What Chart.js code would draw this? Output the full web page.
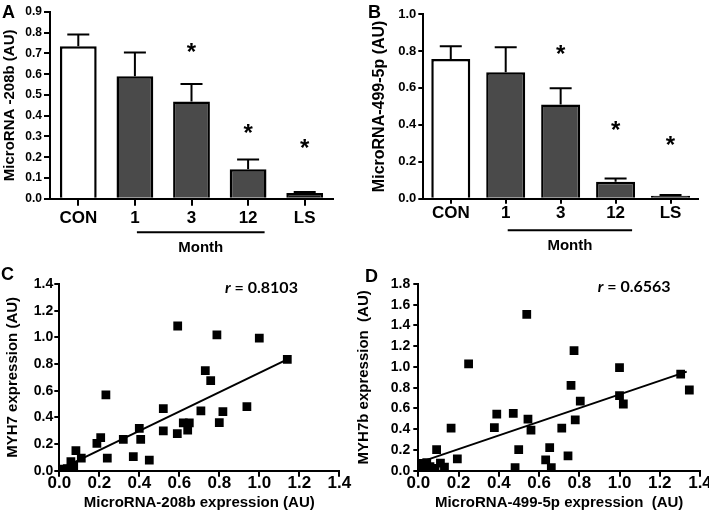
<!DOCTYPE html>
<html>
<head>
<meta charset="utf-8">
<script src="https://cdn.jsdelivr.net/npm/chart.js@4.4.0/dist/chart.umd.min.js"></script>
<style>
body { margin:0; background:#fff; width:709px; height:514px; position:relative; overflow:hidden; }
canvas { position:absolute; }
</style>
</head>
<body>
<canvas id="chartA" width="355" height="262" style="left:0;top:0"></canvas>
<canvas id="chartB" width="354" height="262" style="left:355px;top:0"></canvas>
<canvas id="chartC" width="355" height="264" style="left:0;top:250px"></canvas>
<canvas id="chartD" width="370" height="264" style="left:355px;top:250px"></canvas>
<script>
// bar panels (A, B)
var groups = ['CON', '1', '3', '12', 'LS'];
var mir208bMean = [0.735, 0.59, 0.468, 0.142, 0.028];
var mir208bErr  = [0.057, 0.115, 0.085, 0.047, 0.004];
var mir208bStar = [null, null, 0.73, 0.34, 0.27];
var mir499Mean = [0.757, 0.684, 0.51, 0.092, 0.016];
var mir499Err  = [0.068, 0.136, 0.088, 0.018, 0.004];
var mir499Star = [null, null, 0.81, 0.40, 0.32];
var barColors = ['#ffffff', '#4a4a4a', '#4a4a4a', '#4a4a4a', '#141414'];

// scatter panels (C, D)
var mir208bX = [0.01, 0.02, 0.03, 0.04, 0.05, 0.06, 0.072, 0.058, 0.083, 0.11, 0.188, 0.207, 0.233, 0.24, 0.32, 0.37, 0.40, 0.407, 0.45, 0.52, 0.52, 0.59, 0.592, 0.62, 0.642, 0.65, 0.708, 0.73, 0.757, 0.788, 0.80, 0.818, 0.938, 1.0, 1.14];
var myh7Y    = [0.005, 0.012, 0.0, 0.015, 0.004, 0.022, 0.035, 0.068, 0.15, 0.095, 0.205, 0.248, 0.568, 0.095, 0.235, 0.105, 0.318, 0.235, 0.08, 0.465, 0.298, 0.278, 1.085, 0.358, 0.305, 0.358, 0.448, 0.75, 0.675, 1.018, 0.36, 0.443, 0.48, 0.995, 0.835];
var fitC = [[0.012, 0.018], [1.14, 0.835]];

var mir499X = [0.008, 0.015, 0.02, 0.03, 0.042, 0.05, 0.058, 0.083, 0.091, 0.11, 0.13, 0.163, 0.194, 0.25, 0.378, 0.39, 0.472, 0.481, 0.499, 0.545, 0.539, 0.56, 0.633, 0.653, 0.661, 0.713, 0.744, 0.759, 0.774, 0.78, 0.805, 1.0, 1.0, 1.019, 1.304, 1.347];
var myh7bY   = [0.01, 0.035, 0.07, 0.02, 0.077, 0.01, 0.04, 0.022, 0.204, 0.074, 0.035, 0.41, 0.113, 1.029, 0.415, 0.545, 0.553, 0.03, 0.204, 0.498, 1.508, 0.392, 0.105, 0.222, 0.03, 0.41, 0.142, 0.823, 1.157, 0.489, 0.67, 0.993, 0.723, 0.643, 0.93, 0.778];
var fitD = [[0.017, 0.087], [1.334, 0.955]];

var FONT = "'Liberation Sans', Arial, sans-serif";
Chart.defaults.font.family = FONT;
Chart.defaults.color = '#000';

function pairs(xs, ys) {
  var out = [];
  for (var i = 0; i < xs.length; i++) out.push({x: xs[i], y: ys[i]});
  return out;
}

function barExtras(mean, err, star, letter, letterX, monthY) {
  return {
    id: 'barExtras',
    afterDatasetsDraw: function(chart) {
      var ctx = chart.ctx, xs = chart.scales.x, ys = chart.scales.y;
      ctx.save();
      ctx.strokeStyle = '#000';
      ctx.fillStyle = '#000';
      ctx.lineWidth = 2;
      for (var i = 0; i < mean.length; i++) {
        var x = xs.getPixelForValue(i);
        var y0 = ys.getPixelForValue(mean[i]);
        var y1 = ys.getPixelForValue(mean[i] + err[i]);
        ctx.beginPath();
        ctx.moveTo(x, y0); ctx.lineTo(x, y1);
        ctx.moveTo(x - 11, y1); ctx.lineTo(x + 11, y1);
        ctx.stroke();
        if (star[i] != null) {
          ctx.font = 'bold 24px ' + FONT;
          ctx.textAlign = 'center';
          ctx.textBaseline = 'alphabetic';
          ctx.fillText('*', x, ys.getPixelForValue(star[i]) + 13);
        }
      }
      // "Month" bracket under 1..12
      var lx0 = xs.getPixelForValue(1) + 2;
      var lx1 = xs.getPixelForValue(3) + 16.5;
      var ly = ys.bottom + monthY;
      ctx.beginPath();
      ctx.moveTo(lx0, ly); ctx.lineTo(lx1, ly);
      ctx.stroke();
      ctx.font = 'bold 15px ' + FONT;
      ctx.textAlign = 'center';
      ctx.textBaseline = 'middle';
      ctx.fillText('Month', (lx0 + lx1) / 2, ly + 16);
      ctx.font = 'bold 18px ' + FONT;
      ctx.textAlign = 'left';
      ctx.textBaseline = 'alphabetic';
      ctx.fillText(letter, letterX, 18);
      ctx.restore();
    }
  };
}

function barChart(id, mean, err, star, cfg) {
  return new Chart(document.getElementById(id), {
    type: 'bar',
    data: {
      labels: groups,
      datasets: [{
        data: mean,
        backgroundColor: barColors,
        borderColor: '#000',
        borderWidth: 2.5,
        barPercentage: cfg.barPct,
        categoryPercentage: 1
      }]
    },
    options: {
      responsive: false,
      animation: false,
      layout: {padding: {top: cfg.top, right: cfg.right, left: 0, bottom: 0}},
      plugins: {legend: {display: false}, tooltip: {enabled: false}},
      scales: {
        x: {
          grid: {drawOnChartArea: false, offset: false, color: '#000', lineWidth: 2, tickLength: cfg.xTick},
          border: {color: '#000', width: 2},
          ticks: {font: {size: 17, weight: 'bold'}, padding: cfg.xPad, maxRotation: 0},
          afterFit: function(s) { s.height = 262 - 198.7; }
        },
        y: {
          min: 0, max: cfg.max,
          grid: {drawOnChartArea: false, color: '#000', lineWidth: 2, tickLength: cfg.yTick},
          border: {color: '#000', width: 2},
          ticks: {stepSize: cfg.step, font: {size: cfg.yFont, weight: 'bold'}, padding: 2,
                  callback: function(v) { return v.toFixed(1); }},
          title: {display: true, text: cfg.title, font: {size: cfg.titleSize, weight: 'bold'}, padding: {top: cfg.titlePad, bottom: 0}},
          afterFit: function(s) { s.width = cfg.yWidth; }
        }
      }
    },
    plugins: [barExtras(mean, err, star, cfg.letter, cfg.letterX, cfg.monthY)]
  });
}

barChart('chartA', mir208bMean, mir208bErr, mir208bStar, {
  barPct: 0.65, top: 12, right: 22, max: 0.9, step: 0.1, yFont: 12, yTick: 6, xTick: 7, xPad: 2.4,
  title: 'MicroRNA -208b (AU)', titleSize: 15, titlePad: 1, yWidth: 50, letter: 'A', letterX: 2, monthY: 33.5
});
barChart('chartB', mir499Mean, mir499Err, mir499Star, {
  barPct: 0.71, top: 14, right: 11, max: 1.0, step: 0.2, yFont: 13, yTick: 5, xTick: 5, xPad: -0.6,
  title: 'MicroRNA-499-5p (AU)', titleSize: 16, titlePad: 15, yWidth: 68.3, letter: 'B', letterX: 13, monthY: 31.5
});

function scatterExtras(letter, letterX, letterY, rText, rX, rY) {
  return {
    id: 'scatterExtras',
    afterDraw: function(chart) {
      var ctx = chart.ctx;
      ctx.save();
      ctx.fillStyle = '#000';
      ctx.textBaseline = 'alphabetic';
      ctx.textAlign = 'left';
      ctx.font = 'bold 18px ' + FONT;
      ctx.fillText(letter, letterX, letterY);
      ctx.textBaseline = 'middle';
      ctx.font = 'italic bold 16px Lato, ' + FONT;
      ctx.fillText('r', rX, rY);
      var w = ctx.measureText('r').width;
      ctx.font = 'bold 16px Lato, ' + FONT;
      ctx.fillText(' = ' + rText, rX + w, rY);
      ctx.restore();
    }
  };
}

function scatterChart(id, xs, ys, fit, cfg) {
  return new Chart(document.getElementById(id), {
    type: 'scatter',
    data: {
      datasets: [{
        data: pairs(xs, ys),
        pointStyle: 'rect',
        pointRadius: 6.2,
        backgroundColor: '#000',
        borderWidth: 0
      }, {
        type: 'line',
        data: fit.map(function(p) { return {x: p[0], y: p[1]}; }),
        borderColor: '#000',
        borderWidth: 2,
        pointRadius: 0,
        fill: false
      }]
    },
    options: {
      responsive: false,
      animation: false,
      layout: {padding: {top: 34, right: cfg.right, left: 0, bottom: 0}},
      plugins: {legend: {display: false}, tooltip: {enabled: false}},
      scales: {
        x: {
          type: 'linear', min: 0, max: 1.4,
          grid: {drawOnChartArea: false, color: '#000', lineWidth: 2, tickLength: 6},
          border: {color: '#000', width: 2},
          ticks: {stepSize: 0.2, font: {size: 17, weight: 'bold'}, padding: -3.6, maxRotation: 0,
                  callback: function(v) { return v.toFixed(1); }},
          title: {display: true, text: cfg.xTitle, font: {size: 15, weight: 'bold'}, padding: {top: 0, bottom: 2}},
          afterFit: function(s) { s.height = 43.3; }
        },
        y: {
          min: 0, max: cfg.max,
          grid: {drawOnChartArea: false, color: '#000', lineWidth: 2, tickLength: 5},
          border: {color: '#000', width: 2},
          ticks: {stepSize: 0.2, font: {size: 14, weight: 'bold'}, padding: cfg.yPad,
                  callback: function(v) { return v.toFixed(1); }},
          title: {display: true, text: cfg.yTitle, font: {size: 15, weight: 'bold'}, padding: {top: cfg.titlePad, bottom: 0}},
          afterFit: function(s) { s.width = cfg.yWidth; }
        }
      }
    },
    plugins: [scatterExtras(cfg.letter, cfg.letterX, cfg.letterY, cfg.r, cfg.rX, cfg.rY)]
  });
}

scatterChart('chartC', mir208bX, myh7Y, fitC, {
  right: 15.7, max: 1.4, yPad: 1, yWidth: 59.3, titlePad: 4,
  xTitle: 'MicroRNA-208b expression (AU)', yTitle: 'MYH7 expression (AU)',
  letter: 'C', letterX: 1, letterY: 30, r: '0.8103', rX: 225, rY: 37.7
});
scatterChart('chartD', mir499X, myh7bY, fitD, {
  right: 25, max: 1.8, yPad: 3, yWidth: 63.3, titlePad: 0,
  xTitle: 'MicroRNA-499-5p expression  (AU)', yTitle: 'MYH7b expression  (AU)',
  letter: 'D', letterX: 10, letterY: 32, r: '0.6563', rX: 242.7, rY: 36.7
});
</script>
</body>
</html>
